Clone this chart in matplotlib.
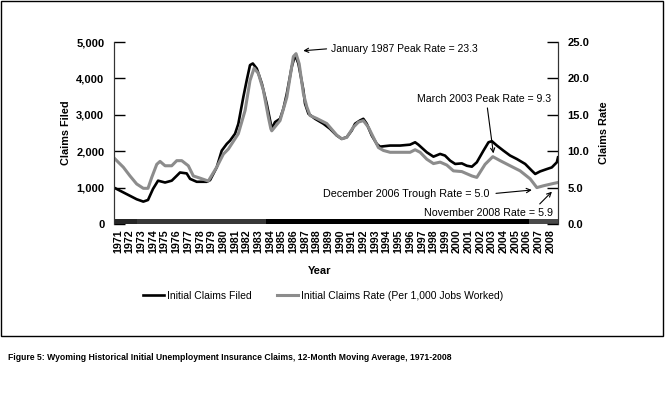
import matplotlib
matplotlib.use("Agg")
import matplotlib.pyplot as plt
from matplotlib.patches import Rectangle
from matplotlib.text import Text

plt.rcParams['font.family'] = ['Liberation Sans', 'DejaVu Sans']

# 12-month moving average of initial claims filed (left axis)
claims_years = [1971.0, 1972.09, 1972.94, 1973.51, 1973.91, 1974.34, 1974.77, 1975.37, 1975.94,
                1976.37, 1976.65, 1977.22, 1977.51, 1978.08, 1978.94, 1979.22, 1979.79, 1980.22,
                1980.65, 1980.93, 1981.36, 1981.64, 1982.07, 1982.36, 1982.64, 1982.88, 1983.22,
                1983.65, 1984.07, 1984.36, 1984.50, 1984.78, 1985.21, 1985.50, 1985.79, 1986.21,
                1986.50, 1986.78, 1987.21, 1987.35, 1987.64, 1988.21, 1988.92, 1989.49, 1990.07,
                1990.49, 1990.92, 1991.35, 1991.63, 1992.06, 1992.34, 1992.63, 1993.06, 1993.49,
                1993.77, 1994.63, 1995.49, 1996.34, 1996.77, 1997.05, 1997.77, 1998.34, 1998.91,
                1999.33, 1999.77, 2000.20, 2000.77, 2001.20, 2001.63, 2002.05, 2002.62, 2003.05,
                2003.34, 2003.77, 2004.33, 2004.90, 2005.48, 2006.19, 2006.76, 2007.05, 2007.47,
                2008.05, 2008.47, 2008.90, 2009.0]
claims = [1000, 820, 680, 615, 660, 965, 1190, 1140, 1190,
          1325, 1415, 1390, 1240, 1160, 1160, 1205, 1555, 2015,
          2200, 2290, 2480, 2750, 3490, 3950, 4365, 4410, 4270,
          3860, 3305, 2845, 2615, 2800, 2890, 3170, 3580, 4315,
          4640, 4410, 3675, 3305, 3030, 2890, 2755, 2615, 2430,
          2340, 2385, 2570, 2755, 2845, 2890, 2755, 2430, 2200,
          2125, 2155, 2155, 2180, 2245, 2180, 1970, 1850, 1925,
          1880, 1740, 1650, 1665, 1600, 1575, 1695, 2015, 2245,
          2275, 2155, 2015, 1880, 1785, 1650, 1465, 1375, 1445,
          1510, 1555, 1695, 1830]

# claims rate per 1,000 jobs worked (right axis)
rate_years = [1971.0, 1971.8, 1972.37, 1972.94, 1973.51, 1973.91, 1974.23, 1974.66, 1974.94,
              1975.37, 1975.94, 1976.37, 1976.80, 1977.36, 1977.79, 1978.36, 1979.07, 1979.79,
              1980.36, 1980.79, 1981.64, 1982.22, 1982.64, 1982.99, 1983.35, 1983.78, 1984.21,
              1984.42, 1984.50, 1985.21, 1985.79, 1986.35, 1986.58, 1986.85, 1987.21, 1987.50,
              1987.78, 1988.35, 1989.21, 1990.07, 1990.49, 1990.92, 1991.49, 1991.92, 1992.34,
              1992.77, 1993.20, 1993.63, 1994.06, 1994.63, 1995.49, 1996.34, 1996.77, 1997.20,
              1997.77, 1998.34, 1998.91, 1999.48, 2000.05, 2000.77, 2001.63, 2002.05, 2002.76,
              2003.42, 2004.05, 2004.90, 2005.76, 2006.62, 2007.19, 2007.75, 2008.61, 2009.0]
rate = [9.07, 7.8, 6.6, 5.5, 4.9, 4.9, 6.4, 8.2, 8.6,
        8.0, 8.0, 8.7, 8.7, 8.0, 6.6, 6.3, 5.9, 7.8,
        9.6, 10.3, 12.4, 15.6, 19.7, 21.4, 20.7, 18.4, 14.7,
        13.1, 12.8, 14.2, 17.4, 23.0, 23.4, 22.0, 17.9, 16.1,
        14.9, 14.5, 13.8, 12.2, 11.7, 11.9, 13.3, 14.0, 14.2,
        13.3, 11.9, 10.5, 10.1, 9.85, 9.85, 9.85, 10.2, 9.85,
        8.9, 8.3, 8.5, 8.1, 7.3, 7.2, 6.6, 6.4, 8.2,
        9.25, 8.7, 8.0, 7.3, 6.2, 5.0, 5.25, 5.57, 5.7]

tick_years = list(range(1971, 2009))
left_ticks = [0, 1000, 2000, 3000, 4000, 5000]
left_labels = ['0', '1,000', '2,000', '3,000', '4,000', '5,000']
right_ticks = [0, 5, 10, 15, 20, 25]

# the shaded strip along the x axis
band_starts = [1971, 1973, 1984, 2006.5]
band_ends = [1973, 1984, 2006.5, 2009]
band_colors = ['#262626', '#383838', '#000000', '#4a4a4a']

fig = plt.figure(figsize=(6.66, 3.93), dpi=100)
fig.patches.append(Rectangle((0.002, 0.144), 0.994, 0.853, transform=fig.transFigure,
                             fill=False, edgecolor='black', linewidth=1))

ax = fig.add_axes([114/666, 1 - 224/393, 444/666, 182/393])
ax2 = ax.twinx()

for s, e, c in zip(band_starts, band_ends, band_colors):
    ax.axvspan(s, e, ymin=0, ymax=0.028, color=c, lw=0, zorder=3)

ax.plot(claims_years, claims, color='black', lw=1.9, label='Initial Claims Filed', zorder=2)
ax2.plot(rate_years, rate, color='#8c8c8c', lw=2.2, label='Initial Claims Rate (Per 1,000 Jobs Worked)')

ax.set_xlim(1971, 2009)
ax.set_ylim(0, 5000)
ax2.set_ylim(0, 25)

ax.set_xticks([y + 0.35 for y in tick_years])
ax.set_xticklabels([str(y) for y in tick_years], rotation=90, fontsize=7.7, fontweight='bold')
ax.tick_params(axis='x', length=0, pad=4)

ax.set_yticks(left_ticks)
ax.set_yticklabels(left_labels, fontsize=8, fontweight='bold')
ax.tick_params(axis='y', direction='in', length=8, width=1, pad=7)
ax2.set_yticks(right_ticks)
ax2.set_yticklabels(['%.1f' % t for t in right_ticks], fontsize=8, fontweight='bold')
ax2.tick_params(axis='y', direction='in', length=8, width=1, pad=7)

for a in (ax, ax2):
    a.spines['top'].set_visible(False)
    a.spines['bottom'].set_visible(False)
    a.spines['left'].set_color('#333333')
    a.spines['right'].set_color('#333333')

ax.set_ylabel('Claims Filed', fontsize=7.8, fontweight='bold', labelpad=4)
ax2.set_ylabel('Claims Rate', fontsize=7.8, fontweight='bold', labelpad=7)
fig.text(320/666, 1 - 271/393, 'Year', fontsize=8, fontweight='bold', ha='center', va='center')

arrow = dict(arrowstyle='->', color='black', lw=0.8, shrinkA=1, shrinkB=0)
notes = []
t = ax2.annotate('January 1987 Peak Rate = 23.3', xy=(1987.2, 23.8), xytext=(1989.55, 24.1),
                 fontsize=7.5, ha='left', va='center',
                 arrowprops=dict(arrow, relpos=(0, 0.5)))
notes.append((t, 147))
t = ax2.annotate('March 2003 Peak Rate = 9.3', xy=(2003.47, 9.7), xytext=(2002.68, 17.2),
                 fontsize=7.5, ha='center', va='center',
                 arrowprops=dict(arrow, relpos=(0.52, 0)))
notes.append((t, 134))
t = ax2.annotate('December 2006 Trough Rate = 5.0', xy=(2006.76, 4.67), xytext=(2003.1, 4.12),
                 fontsize=7.5, ha='right', va='center',
                 arrowprops=dict(arrow, relpos=(1, 0.5), shrinkA=3))
notes.append((t, 166))
t = ax2.annotate('November 2008 Rate = 5.9', xy=(2008.48, 4.44), xytext=(2008.55, 1.55),
                 fontsize=7.5, ha='right', va='center',
                 arrowprops=dict(arrow, relpos=(0.87, 1)))
notes.append((t, 128))

h1, l1 = ax.get_legend_handles_labels()
h2, l2 = ax2.get_legend_handles_labels()
fig.legend(h1 + h2, l1 + l2, loc='center', bbox_to_anchor=(323/666, 1 - 296/393), ncol=2,
           frameon=False, fontsize=7.5, handlelength=2.0, columnspacing=2.4, handletextpad=0.3)

caption = fig.text(8/666, 1 - 358/393,
                   'Figure 5: Wyoming Historical Initial Unemployment Insurance Claims, 12-Month Moving Average, 1971-2008',
                   fontsize=6, fontweight='bold', ha='left', va='center')
notes.append((caption, 450))

# size the texts so they span the same width as in the original
renderer = fig.canvas.get_renderer()
for t, width in notes:
    w = Text.get_window_extent(t, renderer).width
    t.set_fontsize(t.get_fontsize() * width / w)

fig.savefig('out.png', dpi=100)
